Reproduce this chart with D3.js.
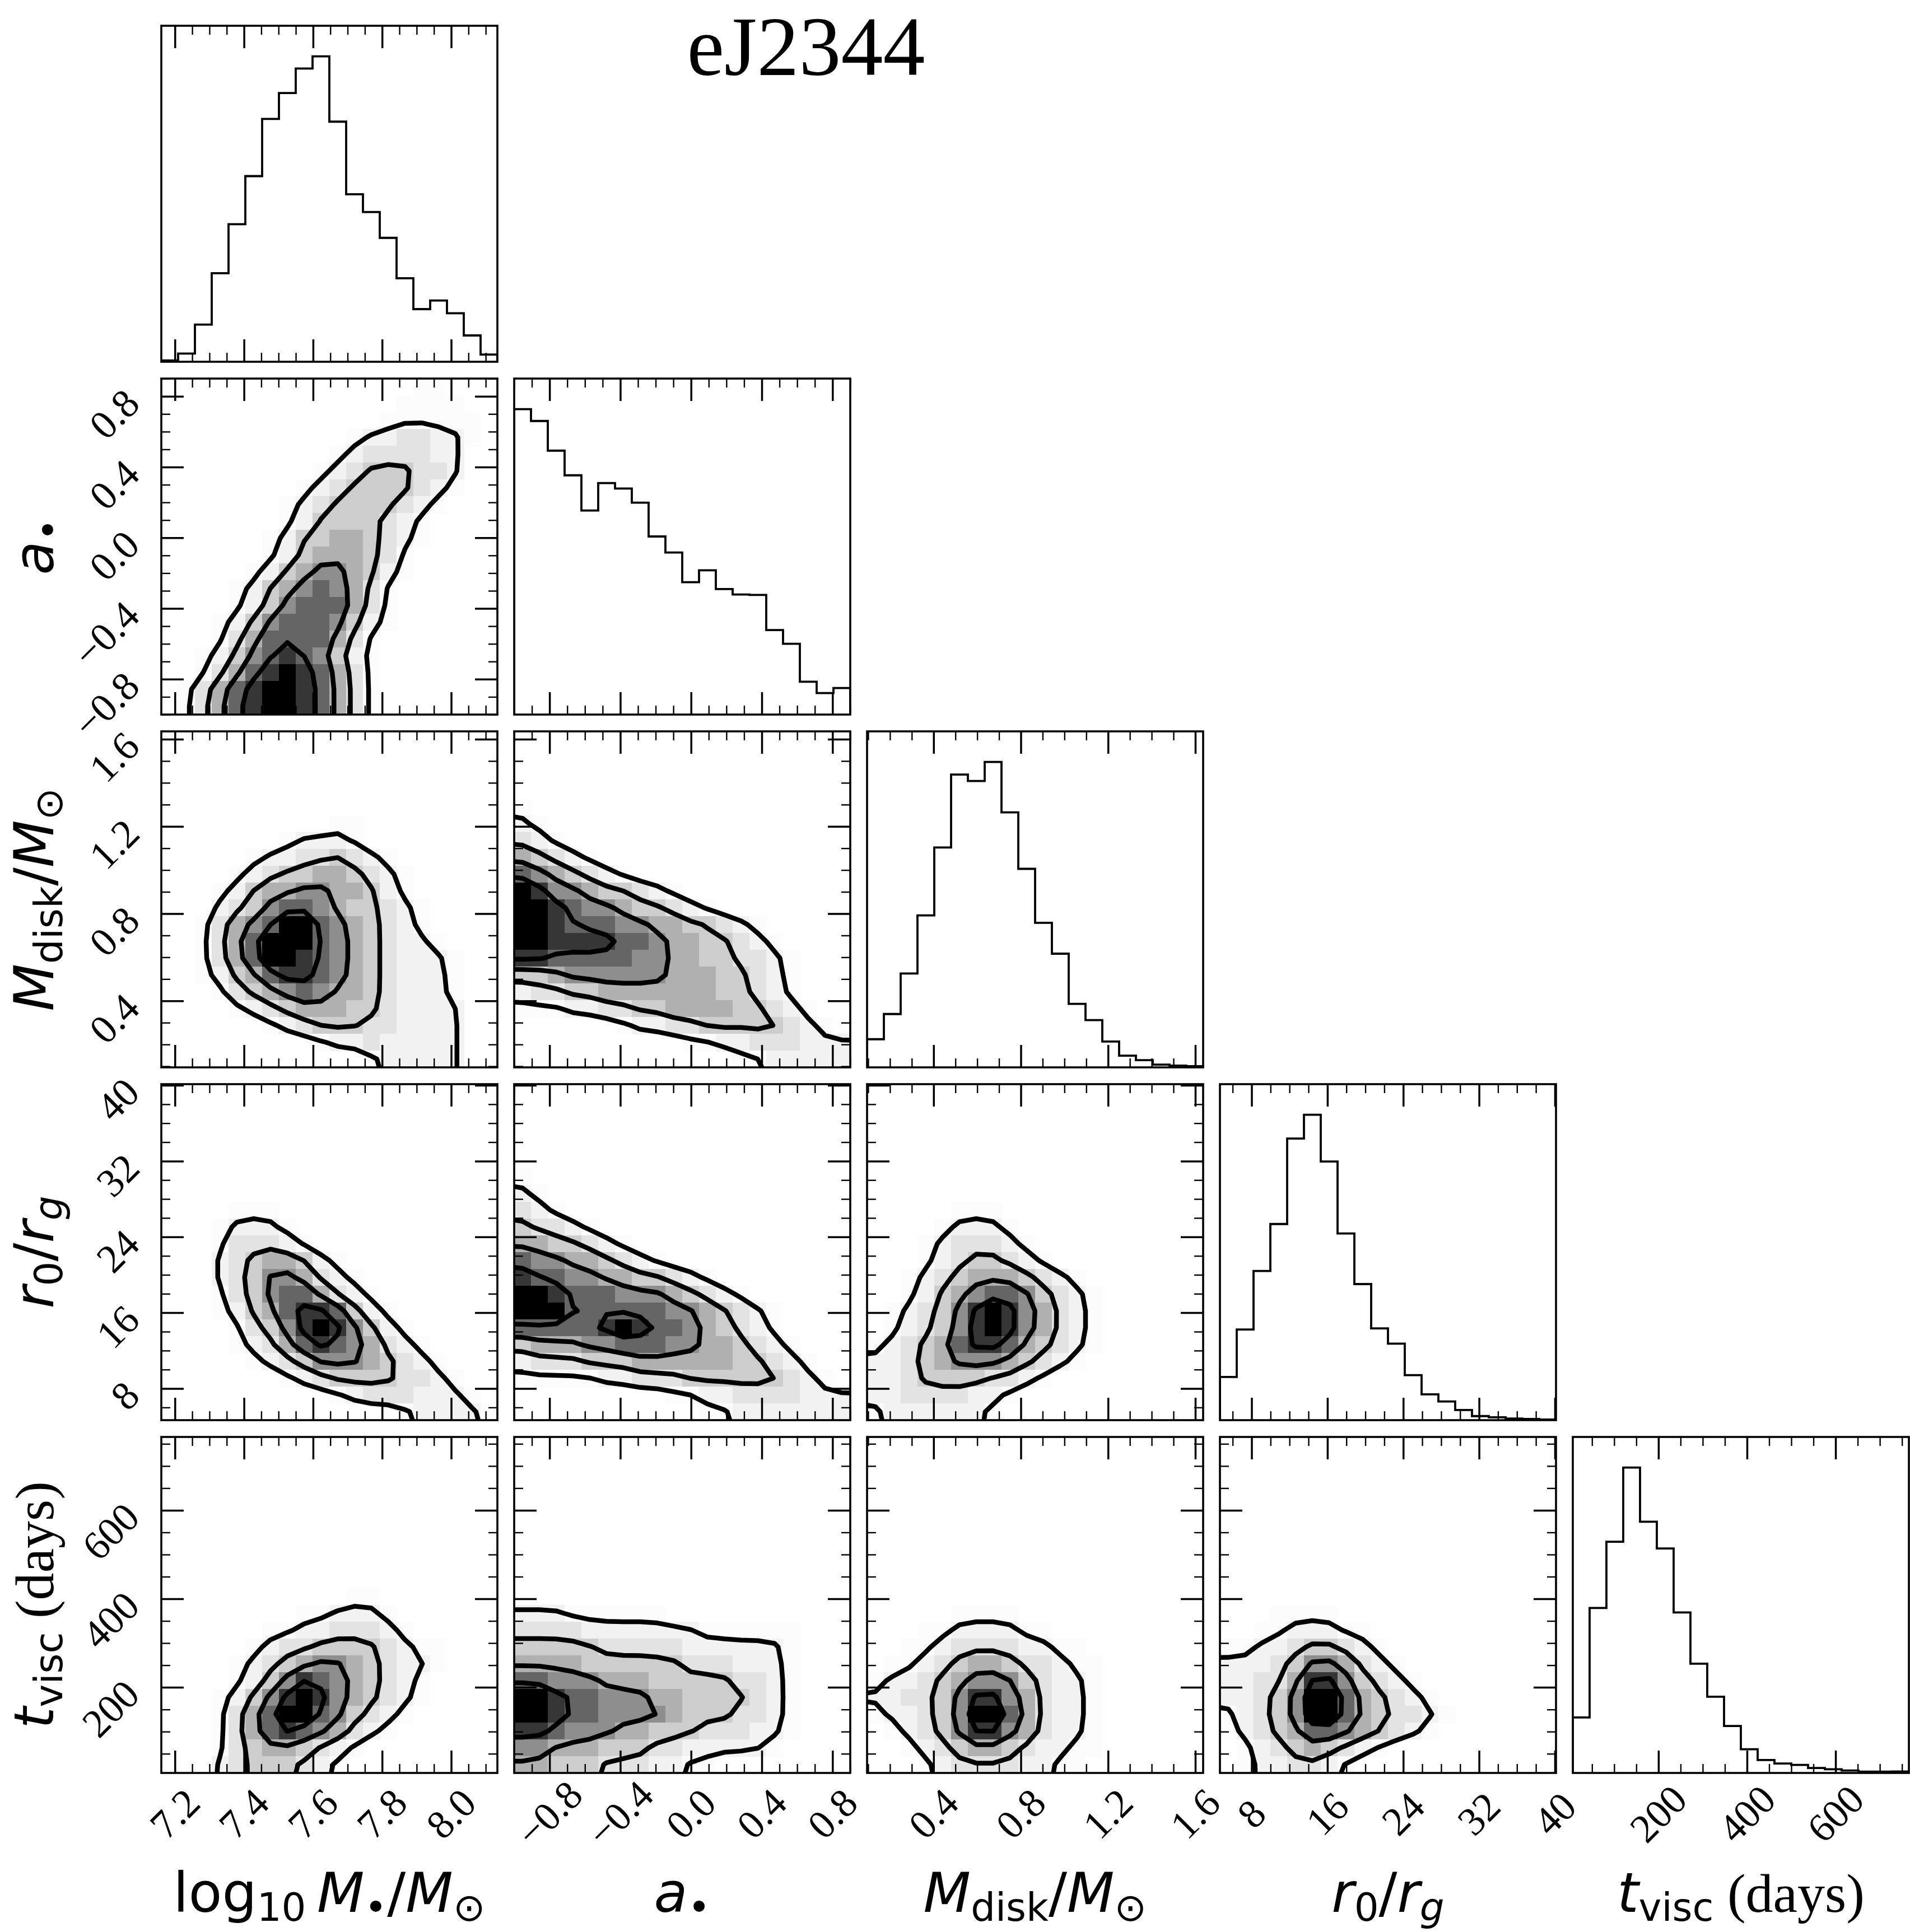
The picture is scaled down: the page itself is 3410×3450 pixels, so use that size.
<!DOCTYPE html>
<html>
<head>
<meta charset="utf-8">
<title>eJ2344 corner plot</title>
<script src="https://cdn.jsdelivr.net/npm/d3@7"></script>
<style>
  body { margin: 0; background: #fff; }
  svg { display: block; }
</style>
</head>
<body>
<svg id="fig" width="3410" height="3450"></svg>
<script>
// parameter order: log10 M, a, Mdisk, r0, tvisc
var ranges = [[7.1606, 8.1338], [-1.0, 0.9004], [0.095, 1.636], [4.66, 40.12], [6.6, 765.6]];
var majorTicks = [[7.2, 7.4, 7.6, 7.8, 8.0], [-0.8, -0.4, 0.0, 0.4, 0.8], [0.4, 0.8, 1.2, 1.6], [8, 16, 24, 32, 40], [200, 400, 600]];
var tickLabels = [["7.2", "7.4", "7.6", "7.8", "8.0"], ["\u22120.8", "\u22120.4", "0.0", "0.4", "0.8"], ["0.4", "0.8", "1.2", "1.6"], ["8", "16", "24", "32", "40"], ["200", "400", "600"]];
var minorSteps = [0.05, 0.1, 0.1, 2, 50];

// 1D histograms, 20 bins over each range
var histLogM  = [3, 18, 82, 195, 303, 409, 535, 592, 646, 673, 529, 369, 330, 273, 184, 116, 135, 107, 58, 16];
var histA     = [669, 643, 578, 524, 447, 507, 495, 464, 390, 355, 290, 316, 275, 263, 262, 185, 155, 72, 47, 58];
var histMdisk = [125, 237, 417, 675, 977, 1301, 1272, 1357, 1133, 882, 642, 505, 282, 210, 115, 52, 32, 12, 8, 5];
var histR0    = [192, 403, 663, 872, 1252, 1358, 1150, 830, 605, 408, 340, 200, 115, 83, 45, 18, 13, 7, 5, 3];
var histT     = [222, 660, 925, 1222, 1005, 898, 642, 437, 305, 188, 95, 52, 38, 32, 20, 15, 10, 5, 5, 6];

// 2D histograms, 20x20, rows from top (high y) to bottom, digit = relative density 0..9
var dens_a_logM = [
  "00000000000000011000","00000000000000111100","00000000000001111110","00000000000122332210",
  "00000000001233332200","00000000012344433200","00000000123444432100","00000001234444321000",
  "00000001244443210000","00000012445543210000","00000012455543100000","00000124566542100000",
  "00001245676531000000","00001246777531000000","00012467776421000000","00013577775310000000",
  "00124678764210000000","00135789875310000000","01357899875310000000","01357899875310000000"];
var dens_Md_logM = [
  "00000000000000000000","00000000000000000000","00000000000000000000","00000000000000000000",
  "00000000000000000000","00000000001100000000","00000001222100000000","00000122334321000000",
  "00001234455432100000","00012455665542100000","00023467765443210000","00135679976543210000",
  "00135799976543221000","00135799876543222100","00124578876543222100","00013456765543222100",
  "00001234555443222200","00000012344433222200","00000000012232222200","00000000000012222200"];
var dens_Md_a = [
  "00000000000000000000","00000000000000000000","00000000000000000000","00000000000000000000",
  "10000000000000000000","21000000000000000000","32100000000000000000","54321000000000000000",
  "76543210000000000000","98665443210000000000","99876654432100000000","99877766554432100000",
  "99888877655443210000","88777776655443321000","44566666655544321000","23344555555544321000",
  "11122334455554432100","00000012233444443210","00000000001122333222","00000000000001122222"];
var dens_r0_logM = [
  "00000000000000000000","00000000000000000000","00000000000000000000","00000000000000000000",
  "00000000000000000000","00000000000000000000","00000000000000000000","00001110000000000000",
  "00012221000000000000","00013332100000000000","00023455421000000000","00023466532100000000",
  "00013467753210000000","00012457887421000000","00001346898642100000","00001235787653210000",
  "00000123466654321000","00000001234444332100","00000000001233322210","00000000000000122221"];
var dens_r0_a = [
  "00000000000000000000","00000000000000000000","00000000000000000000","00000000000000000000",
  "00000000000000000000","10000000000000000000","21000000000000000000","32100000000000000000",
  "43321000000000000000","55443210000000000000","76655432100000000000","87766554432100000000",
  "99877766654321000000","99977777766543210000","77777898776543210000","45556677766554321000",
  "23334445555554432100","11111223334444443210","00000000011223333222","00000000000112222222"];
var dens_r0_Md = [
  "00000000000000000000","00000000000000000000","00000000000000000000","00000000000000000000",
  "00000000000000000000","00000000000000000000","00000000000000000000","00000111000000000000",
  "00001222100000000000","00012333210000000000","00012344321000000000","00123455543210000000",
  "00124567764321000000","01234689865321000000","01234689865321000000","12345788754321000000",
  "22345666543210000000","22344443321000000000","22333322100000000000","12222221000000000000"];
var dens_t_logM = [
  "00000000000000000000","00000000000000000000","00000000000000000000","00000000000000000000",
  "00000000000000000000","00000000000000000000","00000000000000000000","00000000000000000000",
  "00000000000000000000","00000000000110000000","00000000112221000000","00000011223332100000",
  "00000123344443211000","00001234566543221000","00001246876543210000","00012468986543210000",
  "00013579976432100000","00013578765321000000","00013455432100000000","00023444321000000000"];
var dens_t_a = [
  "00000000000000000000","00000000000000000000","00000000000000000000","00000000000000000000",
  "00000000000000000000","00000000000000000000","00000000000000000000","00000000000000000000",
  "00000000000000000000","00000000000000000000","22211111100000000000","33332222222111111000",
  "44444333332222221000","55554444443332221000","77666555444443321000","99877666554444321000",
  "99877666654443321000","88766655444333221000","66555444332222210000","55444333221100000000"];
var dens_t_Md = [
  "00000000000000000000","00000000000000000000","00000000000000000000","00000000000000000000",
  "00000000000000000000","00000000000000000000","00000000000000000000","00000000000000000000",
  "00000000000000000000","00000000000000000000","00000111100000000000","00011222211000000000",
  "00112333322110000000","01123455433211000000","12234566643221000000","22334688653221000000",
  "12234699753221000000","01234688653221000000","00123455432211000000","00012333322110000000"];
var dens_t_r0 = [
  "00000000000000000000","00000000000000000000","00000000000000000000","00000000000000000000",
  "00000000000000000000","00000000000000000000","00000000000000000000","00000000000000000000",
  "00000000000000000000","00000000000000000000","00011110000000000000","00112221100000000000",
  "11223443210000000000","22234665321000000000","22335886432100000000","22346997543210000000",
  "12346997543321000000","12345776543210000000","01234543210000000000","01223321000000000000"];

var contourLevels = [1.5, 3.5, 5.4, 7.2];

(function() {

var hists = [histLogM, histA, histMdisk, histR0, histT];
var grids = {
  "1_0": dens_a_logM,
  "2_0": dens_Md_logM, "2_1": dens_Md_a,
  "3_0": dens_r0_logM, "3_1": dens_r0_a, "3_2": dens_r0_Md,
  "4_0": dens_t_logM, "4_1": dens_t_a, "4_2": dens_t_Md, "4_3": dens_t_r0
};

//Layout
var X0 = 288, Y0 = 46, PITCH = 630, SIZE = 600, NB = 20;
var SERIF = "'Liberation Serif', 'Times New Roman', serif";
var SANS = "'DejaVu Sans', sans-serif";

var svg = d3.select("#fig");
svg.append("rect").attr("width", 3410).attr("height", 3450).attr("fill", "#fff");
svg.append("defs").append("clipPath").attr("id", "panelclip")
    .append("rect").attr("width", SIZE).attr("height", SIZE);

var xs = ranges.map(function(r) { return d3.scaleLinear().domain(r).range([0, SIZE]); });
var ys = ranges.map(function(r) { return d3.scaleLinear().domain(r).range([SIZE, 0]); });

function minorTicks(k) {
    var lo = ranges[k][0], hi = ranges[k][1], st = minorSteps[k];
    return d3.range(Math.ceil(lo / st), Math.floor(hi / st) + 1)
        .map(function(n) { return n * st; })
        .filter(function(v) {
            return !majorTicks[k].some(function(m) { return Math.abs(m - v) < st / 10; });
        });
}

function majorIn(k) {
    return majorTicks[k].filter(function(v) { return v >= ranges[k][0] && v <= ranges[k][1]; });
}

function tickSet(g, axisFn, scale, values, len, width, tx, ty) {
    g.append("g")
        .attr("transform", "translate(" + tx + "," + ty + ")")
        .call(axisFn(scale).tickValues(values).tickSize(-len).tickFormat(""))
        .call(function(a) { a.select(".domain").remove(); })
        .call(function(a) { a.selectAll("line").attr("stroke", "#000").attr("stroke-width", width); });
}

function cellValue(grid, r, c) {
    r = Math.max(0, Math.min(NB - 1, r));
    c = Math.max(0, Math.min(NB - 1, c));
    var ch = (grid[r] || "")[c];
    return ch ? +ch : 0;
}

//small separable gaussian, like the smoothing corner applies before contouring
function smoothGrid(vals, w, h, sigma) {
    var kern = [-2, -1, 0, 1, 2].map(function(d) { return Math.exp(-d * d / (2 * sigma * sigma)); });
    var ks = d3.sum(kern);
    kern = kern.map(function(k) { return k / ks; });
    var tmp = new Array(vals.length), out = new Array(vals.length);
    for (var y = 0; y < h; y++) {
        for (var x = 0; x < w; x++) {
            var s = 0;
            for (var d = -2; d <= 2; d++) {
                var xx = Math.max(0, Math.min(w - 1, x + d));
                s += kern[d + 2] * vals[y * w + xx];
            }
            tmp[y * w + x] = s;
        }
    }
    for (var y2 = 0; y2 < h; y2++) {
        for (var x2 = 0; x2 < w; x2++) {
            var s2 = 0;
            for (var d2 = -2; d2 <= 2; d2++) {
                var yy = Math.max(0, Math.min(h - 1, y2 + d2));
                s2 += kern[d2 + 2] * tmp[yy * w + x2];
            }
            out[y2 * w + x2] = s2;
        }
    }
    return out;
}

function drawHist(body, j) {
    var counts = hists[j];
    var bw = (ranges[j][1] - ranges[j][0]) / NB;
    var yh = d3.scaleLinear().domain([0, 1.1 * d3.max(counts)]).range([SIZE, 0]);
    var pts = [[ranges[j][0], 0]];
    counts.forEach(function(c, n) {
        pts.push([ranges[j][0] + n * bw, c]);
        pts.push([ranges[j][0] + (n + 1) * bw, c]);
    });
    pts.push([ranges[j][1], 0]);
    body.append("path")
        .attr("d", d3.line().x(function(d) { return xs[j](d[0]); }).y(function(d) { return yh(d[1]); })(pts))
        .attr("fill", "none")
        .attr("stroke", "#000")
        .attr("stroke-width", 3.8)
        .attr("stroke-linejoin", "miter");
}

function drawDensity(body, i, j) {
    var grid = grids[i + "_" + j];
    var bx = (ranges[j][1] - ranges[j][0]) / NB;
    var by = (ranges[i][1] - ranges[i][0]) / NB;
    var xsc = xs[j], ysc = ys[i];
    var xlo = ranges[j][0], yhi = ranges[i][1];

    //density cells (corner style: white -> black, alpha grows with density)
    for (var r = 0; r < NB; r++) {
        for (var c = 0; c < NB; c++) {
            var v = cellValue(grid, r, c);
            if (!v) continue;
            var h = v / 9;
            var gray = Math.round(255 * (1 - h * h));
            var x0v = xlo + c * bx, y1v = yhi - r * by;
            body.append("rect")
                .attr("x", xsc(x0v))
                .attr("y", ysc(y1v))
                .attr("width", xsc(x0v + bx) - xsc(x0v) + 0.6)
                .attr("height", ysc(y1v - by) - ysc(y1v) + 0.6)
                .attr("fill", d3.rgb(gray, gray, gray))
                .attr("shape-rendering", "crispEdges");
        }
    }

    //contours on a smoothed grid padded by two cells so rings close outside the panel
    var P = 2, W = NB + 2 * P;
    var vals = [];
    for (var rr = -P; rr < NB + P; rr++) {
        for (var cc = -P; cc < NB + P; cc++) {
            vals.push(cellValue(grid, rr, cc));
        }
    }
    vals = smoothGrid(vals, W, W, 0.65);
    var conts = d3.contours().size([W, W]).smooth(true).thresholds(contourLevels)(vals);
    var proj = d3.geoTransform({
        point: function(px, py) {
            this.stream.point(xsc(xlo + (px - P) * bx), ysc(yhi - (py - P) * by));
        }
    });
    body.selectAll("path.cont")
        .data(conts)
        .enter()
        .append("path")
        .attr("class", "cont")
        .attr("d", d3.geoPath(proj))
        .attr("fill", "none")
        .attr("stroke", "#000")
        .attr("stroke-width", 8.5)
        .attr("stroke-linejoin", "round");
}

//Draw every panel
for (var i = 0; i < 5; i++) {
    for (var j = 0; j <= i; j++) {
        var panelX = X0 + j * PITCH, panelY = Y0 + i * PITCH;
        var pg = svg.append("g").attr("transform", "translate(" + panelX + "," + panelY + ")");
        var body = pg.append("g").attr("clip-path", "url(#panelclip)");

        if (i === j) {
            drawHist(body, j);
        } else {
            drawDensity(body, i, j);
        }

        //ticks, inward on every side
        tickSet(pg, d3.axisBottom, xs[j], majorIn(j), 40, 3.5, 0, SIZE);
        tickSet(pg, d3.axisTop, xs[j], majorIn(j), 40, 3.5, 0, 0);
        tickSet(pg, d3.axisBottom, xs[j], minorTicks(j), 16, 2.4, 0, SIZE);
        tickSet(pg, d3.axisTop, xs[j], minorTicks(j), 16, 2.4, 0, 0);
        if (i !== j) {
            tickSet(pg, d3.axisLeft, ys[i], majorIn(i), 40, 3.5, 0, 0);
            tickSet(pg, d3.axisRight, ys[i], majorIn(i), 40, 3.5, SIZE, 0);
            tickSet(pg, d3.axisLeft, ys[i], minorTicks(i), 16, 2.4, 0, 0);
            tickSet(pg, d3.axisRight, ys[i], minorTicks(i), 16, 2.4, SIZE, 0);
        }

        pg.append("rect")
            .attr("width", SIZE)
            .attr("height", SIZE)
            .attr("fill", "none")
            .attr("stroke", "#000")
            .attr("stroke-width", 3.6);
    }
}

//Tick labels: bottom row and left column, rotated 45 degrees
var bottomY = Y0 + 4 * PITCH + SIZE;
ranges.forEach(function(rg, k) {
    var lx = X0 + k * PITCH;
    majorTicks[k].forEach(function(v, n) {
        svg.append("text")
            .attr("transform", "translate(" + (lx + xs[k](v)) + "," + (bottomY + 73) + ") rotate(-45)")
            .attr("text-anchor", "middle")
            .attr("dominant-baseline", "central")
            .attr("font-family", SERIF)
            .attr("font-size", 72)
            .text(tickLabels[k][n]);
    });
    if (k === 0) return;
    var rowY = Y0 + k * PITCH;
    majorTicks[k].forEach(function(v, n) {
        svg.append("text")
            .attr("transform", "translate(" + (X0 - 52) + "," + (rowY + ys[k](v)) + ") rotate(-45)")
            .attr("text-anchor", "end")
            .attr("dominant-baseline", "central")
            .attr("font-family", SERIF)
            .attr("font-size", 72)
            .text(tickLabels[k][n]);
    });
});

//Axis labels (mathtext style)
var axisLabels = [
    [{t: "log"}, {t: "10", sub: true}, {t: "\u2009"}, {t: "M", it: true}, {t: "\u2022", sub: true}, {t: "/"}, {t: "M", it: true}, {t: "\u2299", sub: true}],
    [{t: "a", it: true}, {t: "\u2022", sub: true}],
    [{t: "M", it: true}, {t: "disk", sub: true}, {t: "/"}, {t: "M", it: true}, {t: "\u2299", sub: true}],
    [{t: "r", it: true}, {t: "0", sub: true}, {t: "/"}, {t: "r", it: true}, {t: "g", sub: true, it: true}],
    [{t: "t", it: true}, {t: "visc", sub: true}, {t: " (days)", serif: true}]
];

function mathLabel(sel, parts) {
    var shift = 0;
    parts.forEach(function(p) {
        var ts = sel.append("tspan").text(p.t);
        var target = p.sub ? 16 : 0;
        if (target !== shift) {
            ts.attr("dy", target - shift);
            shift = target;
        }
        if (p.sub) ts.attr("font-size", 69);
        if (p.it) ts.attr("font-style", "italic");
        if (p.serif) ts.attr("font-family", SERIF);
    });
}

axisLabels.forEach(function(parts, k) {
    var t = svg.append("text")
        .attr("x", X0 + k * PITCH + SIZE / 2)
        .attr("y", 3414)
        .attr("text-anchor", "middle")
        .attr("font-family", SANS)
        .attr("font-size", 98)
        .style("white-space", "pre");
    mathLabel(t, parts);
    if (k > 0) {
        var tl = svg.append("text")
            .attr("transform", "translate(95," + (Y0 + k * PITCH + SIZE / 2) + ") rotate(-90)")
            .attr("text-anchor", "middle")
            .attr("font-family", SANS)
            .attr("font-size", 98)
            .style("white-space", "pre");
        mathLabel(tl, parts);
    }
});

//Title
svg.append("text")
    .attr("x", 1439)
    .attr("y", 134)
    .attr("text-anchor", "middle")
    .attr("font-family", SERIF)
    .attr("font-size", 150)
    .text("eJ2344");

})();
</script>
</body>
</html>
